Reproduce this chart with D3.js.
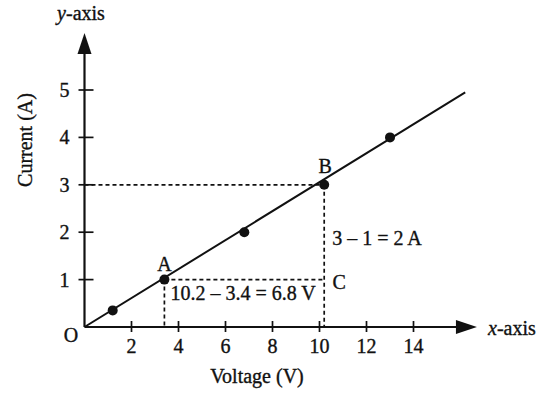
<!DOCTYPE html>
<html><head><meta charset="utf-8">
<script src="https://cdn.jsdelivr.net/npm/d3@7"></script>
<style>
html,body{margin:0;padding:0;background:#fff;}
svg{display:block;font-family:"Liberation Serif","Times New Roman",serif;}
svg text{stroke:#111;stroke-width:0.35px;}
</style></head>
<body>
<script>
// ---- data ----
const xTicks = [2, 4, 6, 8, 10, 12, 14];
const yTicks = [1, 2, 3, 4, 5];
const pointX = [1.2, 3.4, 6.8, 10.2, 13.0];
const pointY = [0.35, 1, 2, 3, 4];
const lineX = [0, 16.2];
const lineY = [0, 4.95];
const labelNames = ["A", "B", "C"];
const labelX = [3.4, 10.2, 10.2];
const labelY = [1, 3, 1];
const axisEnd = { x: 16.7, y: 6.2 };

const W = 543, H = 394, FS = 20;
const svg = d3.select("body").append("svg").attr("width", W).attr("height", H);

const x = d3.scaleLinear().domain([0, 14]).range([84.5, 413.5]);
const y = d3.scaleLinear().domain([0, 5]).range([327, 90]);
const ink = "#111";

// dashed guides
const A = {x: labelX[0], y: labelY[0]}, B = {x: labelX[1], y: labelY[1]}, C = {x: labelX[2], y: labelY[2]};
const dashed = [
  [[0, B.y], [B.x, B.y]],
  [[B.x, B.y], [B.x, 0]],
  [[A.x, A.y], [C.x, C.y]],
  [[A.x, A.y], [A.x, 0]]
];
svg.selectAll(".dash").data(dashed).join("line")
  .attr("x1", d => x(d[0][0])).attr("y1", d => y(d[0][1]))
  .attr("x2", d => x(d[1][0])).attr("y2", d => y(d[1][1]))
  .attr("stroke", ink).attr("stroke-width", 1.7).attr("stroke-dasharray", "4,3");

// axes
svg.append("line").attr("x1", x(0)).attr("y1", y(0)).attr("x2", x(axisEnd.x) - 12).attr("y2", y(0))
  .attr("stroke", ink).attr("stroke-width", 2.2);
svg.append("line").attr("x1", x(0)).attr("y1", y(0)).attr("x2", x(0)).attr("y2", y(axisEnd.y) + 12)
  .attr("stroke", ink).attr("stroke-width", 2.2);
// arrowheads
const xt = x(axisEnd.x), yt = y(0);
svg.append("path").attr("d", `M${xt},${yt} L${xt-21},${yt-7} L${xt-21},${yt+7} Z`).attr("fill", ink);
const yx = x(0), yy = y(axisEnd.y);
svg.append("path").attr("d", `M${yx},${yy} L${yx-7},${yy+21} L${yx+7},${yy+21} Z`).attr("fill", ink);

// ticks
svg.selectAll(".xt").data(xTicks).join("line")
  .attr("x1", d => x(d)).attr("x2", d => x(d)).attr("y1", y(0) - 6).attr("y2", y(0) + 5)
  .attr("stroke", ink).attr("stroke-width", 1.7);
svg.selectAll(".yt").data(yTicks).join("line")
  .attr("y1", d => y(d)).attr("y2", d => y(d)).attr("x1", x(0) - 6).attr("x2", x(0) + 9)
  .attr("stroke", ink).attr("stroke-width", 1.7);

svg.selectAll(".xl").data(xTicks).join("text")
  .attr("x", d => x(d)).attr("y", y(0) + 26).attr("text-anchor", "middle")
  .attr("font-size", FS).attr("fill", ink).text(d => d);
svg.selectAll(".yl").data(yTicks).join("text")
  .attr("x", x(0) - 15).attr("y", d => y(d) + 7).attr("text-anchor", "end")
  .attr("font-size", FS).attr("fill", ink).text(d => d);

svg.append("text").attr("x", x(0) - 13.5).attr("y", y(0) + 15).attr("text-anchor", "middle")
  .attr("font-size", FS).attr("fill", ink).text("O");

// fitted line
svg.append("line").attr("x1", x(lineX[0])).attr("y1", y(lineY[0]))
  .attr("x2", x(lineX[1])).attr("y2", y(lineY[1]))
  .attr("stroke", ink).attr("stroke-width", 2);

// points
svg.selectAll(".pt").data(pointX.map((v, i) => [v, pointY[i]])).join("circle")
  .attr("cx", d => x(d[0])).attr("cy", d => y(d[1])).attr("r", 5).attr("fill", ink);

// point labels
const lblOff = [[0, -9], [1, -12], [15, 9]];
svg.selectAll(".pl").data(labelNames).join("text")
  .attr("x", (d, i) => x(labelX[i]) + lblOff[i][0]).attr("y", (d, i) => y(labelY[i]) + lblOff[i][1])
  .attr("text-anchor", "middle").attr("font-size", FS).attr("fill", ink).text(d => d);

// annotations
svg.append("text").attr("x", x(B.x) + 8).attr("y", y(2) + 13).attr("font-size", FS).attr("fill", ink)
  .text("3 \u2013 1 = 2 A");
svg.append("text").attr("x", x(A.x) + 6).attr("y", y(1) + 20).attr("font-size", FS).attr("fill", ink)
  .text("10.2 \u2013 3.4 = 6.8 V");

// axis titles
svg.append("text").attr("x", 257).attr("y", 383).attr("text-anchor", "middle")
  .attr("font-size", FS).attr("fill", ink).text("Voltage (V)");
svg.append("text").attr("transform", "translate(32,140) rotate(-90)").attr("text-anchor", "middle")
  .attr("font-size", FS).attr("fill", ink).text("Current (A)");

const ya = svg.append("text").attr("x", 81).attr("y", 20).attr("text-anchor", "middle")
  .attr("font-size", FS).attr("fill", ink);
ya.append("tspan").attr("font-style", "italic").text("y");
ya.append("tspan").text("-axis");
const xa = svg.append("text").attr("x", 488).attr("y", 335)
  .attr("font-size", FS).attr("fill", ink);
xa.append("tspan").attr("font-style", "italic").text("x");
xa.append("tspan").text("-axis");
</script>
</body></html>
